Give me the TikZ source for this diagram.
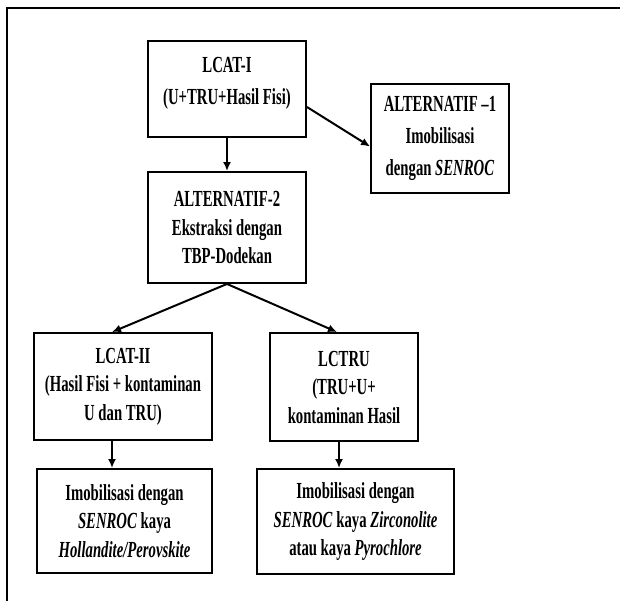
\documentclass[tikz,border=0pt]{standalone}
\usepackage{fontspec}
\setmainfont[FakeStretch=0.64]{Liberation Serif}
\usetikzlibrary{arrows.meta}
\tikzset{
  box/.style={draw, line width=1.9pt, align=center, inner sep=2pt,
    font=\fontsize{23}{28.5}\selectfont\bfseries},
  arr/.style={->, line width=2pt},
  >={Latex[length=9pt,width=8pt]}
}
\begin{document}
\begin{tikzpicture}[x=1pt, y=-1pt]
    \useasboundingbox (0, 0) rectangle (620, 601);
    % frame
    \draw [line width=2.2pt] (7, 601) -- (7, 8) -- (620, 8);
    % lcat-i
    \node[box, minimum width=158pt, minimum height=96pt, font=\fontsize{23}{32}\selectfont\bfseries] (lcatI) at (227, 89) {LCAT-I\\(U+TRU+Hasil Fisi)\\[-16pt]};
    % alternatif 1
    \node[box, minimum width=138pt, minimum height=109pt, font=\fontsize{23}{32}\selectfont\bfseries] (altI) at (440, 138.5) {ALTERNATIF --1\\Imobilisasi\\dengan \textit{SENROC}};
    % alternatif 2
    \node[box, minimum width=158pt, minimum height=111pt] (altII) at (227, 227.5) {ALTERNATIF-2\\Ekstraksi dengan\\TBP-Dodekan};
    % lcat-ii
    \node[box, minimum width=178pt, minimum height=107pt] (lcatII) at (123, 386.5) {LCAT-II\\(Hasil Fisi + kontaminan\\U dan TRU)};
    % lctru
    \node[box, minimum width=148pt, minimum height=108pt] (lctru) at (344, 387) {LCTRU\\(TRU+U+\\kontaminan Hasil};
    % imobilisasi
    \node[box, minimum width=175pt, minimum height=104pt] (imobII) at (124.5, 521) {Imobilisasi dengan\\\textit{SENROC} kaya\\\textit{Hollandite/Perovskite}};
    \node[box, minimum width=197pt, minimum height=105pt] (imobTRU) at (355.5, 521.5) {Imobilisasi dengan\\\textit{SENROC} kaya \textit{Zirconolite}\\atau kaya \textit{Pyrochlore}};
    % arrows
    \draw [arr] (lcatI.south) -- (altII.north);
    \draw [arr] ([yshift=-18pt]lcatI.east) -- ([yshift=-8pt]altI.west);
    \draw [arr] (altII.south) -- ([xshift=-11pt]lcatII.north);
    \draw [arr] (altII.south) -- ([xshift=-7pt]lctru.north);
    \draw [arr] ([xshift=-11pt]lcatII.south) -- ([xshift=-11pt]lcatII.south |- imobII.north);
    \draw [arr] ([xshift=-5pt]lctru.south) -- ([xshift=-5pt]lctru.south |- imobTRU.north);
\end{tikzpicture}
\end{document}
